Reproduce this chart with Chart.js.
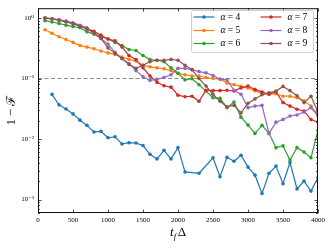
<!DOCTYPE html>
<html>
<head>
<meta charset="utf-8">
<script src="https://cdn.jsdelivr.net/npm/chart.js@4.4.0/dist/chart.umd.min.js"></script>
<style>
  html, body { margin: 0; padding: 0; background: #fff; }
  #wrap { width: 332px; height: 248px; }
</style>
</head>
<body>
<div id="wrap"><canvas id="grafico" width="332" height="248"></canvas></div>
<script>
    // t_f * Delta
    const tf = [100, 200, 300, 400, 500, 600, 700, 800, 900, 1000,
      1100, 1200, 1300, 1400, 1500, 1600, 1700, 1800, 1900, 2000,
      2100, 2200, 2300, 2400, 2500, 2600, 2700, 2800, 2900, 3000,
      3100, 3200, 3300, 3400, 3500, 3600, 3700, 3800, 3900, 4000];

    const alfa4 = [null, 0.0546, 0.0367, 0.0313, 0.026, 0.0205, 0.0168, 0.0131, 0.0134, 0.0105,
      0.0109, 0.0083, 0.0087, 0.0086, 0.0078, 0.0056, 0.0047, 0.0065, 0.0047, 0.0072,
      0.00286, null, 0.00272, null, 0.0049, 0.00238, 0.0050, 0.0043, 0.0054, 0.00344,
      0.00253, 0.00126, 0.00272, 0.00358, 0.00183, 0.0041, 0.0015, 0.00202, 0.00138, 0.00232];

    const alfa5 = [0.64, 0.56, 0.49, 0.44, 0.395, 0.35, 0.33, 0.31, 0.285, 0.265,
      0.25, 0.226, 0.207, 0.195, 0.165, 0.156, 0.15, 0.145, 0.135, 0.122,
      0.115, 0.11, 0.11, 0.104, 0.10, 0.098, 0.084, 0.079, 0.074, 0.070,
      0.063, 0.056, 0.055, 0.056, 0.051, 0.051, 0.048, 0.043, 0.035, 0.025];

    const alfa6 = [0.905, 0.86, 0.81, 0.76, 0.72, 0.69, 0.59, 0.54, 0.49, 0.45,
      0.395, 0.35, 0.30, 0.29, 0.24, 0.205, 0.20, 0.19, 0.15, 0.122,
      0.095, 0.099, 0.079, 0.062, 0.048, 0.047, 0.033, 0.041, 0.023, 0.017,
      0.0124, 0.0168, 0.0124, 0.0072, 0.0077, 0.0045, 0.0072, 0.0061, 0.0049, 0.014];

    const alfa7 = [1.0, 0.97, 0.93, 0.88, 0.82, 0.74, 0.67, 0.60, 0.52, 0.45,
      0.42, 0.33, 0.24, 0.205, 0.15, 0.11, 0.087, 0.076, 0.072, 0.053,
      0.050, 0.051, 0.042, 0.064, 0.063, 0.063, 0.064, 0.062, 0.070, 0.075,
      0.066, 0.060, 0.055, 0.060, 0.040, 0.035, 0.031, 0.029, 0.021, 0.019];

    const alfa8 = [1.0, 0.97, 0.93, 0.88, 0.83, 0.76, 0.69, 0.55, 0.46, 0.37,
      0.27, 0.213, 0.177, 0.135, 0.107, 0.093, 0.097, 0.104, 0.115, 0.147,
      0.147, 0.14, 0.13, 0.124, 0.112, 0.097, 0.095, 0.064, 0.055, 0.033,
      0.035, 0.036, 0.0124, 0.019, 0.021, 0.024, 0.025, 0.028, 0.033, 0.024];

    const alfa9 = [1.0, 0.96, 0.92, 0.86, 0.80, 0.73, 0.66, 0.57, 0.46, 0.32,
      0.26, 0.213, 0.17, 0.147, 0.166, 0.19, 0.20, 0.20, 0.207, 0.20,
      0.166, 0.14, 0.10, 0.075, 0.055, 0.042, 0.034, 0.036, 0.027, 0.039,
      0.046, 0.054, 0.058, 0.062, 0.074, 0.063, 0.052, 0.040, 0.051, 0.028];

    const alfas = [4, 5, 6, 7, 8, 9];
    const series = [alfa4, alfa5, alfa6, alfa7, alfa8, alfa9];
    const cores = ['#1f77b4', '#ff7f0e', '#2ca02c', '#d62728', '#9467bd', '#8c564b'];

    const xTicks = [0, 500, 1000, 1500, 2000, 2500, 3000, 3500, 4000];
    const yTicks = [1e-3, 1e-2, 1e-1, 1];
    const yTickLabels = ['10⁻³', '10⁻²', '10⁻¹', '10⁰'];
    const limiar = 0.1;

    const serif = "'Liberation Serif', 'DejaVu Serif', serif";

    const datasets = series.map((arr, i) => ({
      label: 'α = ' + alfas[i],
      data: tf.map((t, j) => ({ x: t, y: arr[j] })),
      borderColor: cores[i],
      backgroundColor: cores[i],
      borderWidth: 1.2,
      pointRadius: 1.8,
      pointBorderWidth: 0,
      pointHoverRadius: 1.8,
      spanGaps: true,
      tension: 0,
      order: 10 - i
    }));

    datasets.push({
      label: '',
      data: [{ x: 0, y: limiar }, { x: 4000, y: limiar }],
      borderColor: '#8c8c8c',
      borderWidth: 1,
      borderDash: [4, 2.5],
      pointRadius: 0,
      order: 20
    });

    const moldura = {
      id: 'moldura',
      afterDraw(chart) {
        const { ctx, chartArea: a, scales } = chart;
        const sx = scales.x, sy = scales.y;
        ctx.save();

        // ticks para dentro nos quatro lados
        ctx.strokeStyle = '#222';
        ctx.lineWidth = 0.8;
        ctx.beginPath();
        xTicks.forEach(v => {
          const px = Math.round(sx.getPixelForValue(v)) + 0.5;
          ctx.moveTo(px, a.bottom); ctx.lineTo(px, a.bottom - 3.5);
          ctx.moveTo(px, a.top); ctx.lineTo(px, a.top + 3.5);
        });
        for (let n = -4; n <= 0; n++) {
          for (let k = 1; k <= 9; k++) {
            const v = k * Math.pow(10, n);
            if (v < sy.min || v > sy.max) continue;
            const py = Math.round(sy.getPixelForValue(v)) + 0.5;
            const len = k === 1 ? 3.5 : 2;
            ctx.moveTo(a.left, py); ctx.lineTo(a.left + len, py);
            ctx.moveTo(a.right, py); ctx.lineTo(a.right - len, py);
          }
        }
        ctx.stroke();

        // moldura
        ctx.strokeStyle = '#111';
        ctx.lineWidth = 1;
        ctx.strokeRect(a.left + 0.5, a.top + 0.5, a.right - a.left - 1, a.bottom - a.top - 1);

        // legenda em duas colunas
        const lx = 191, ly = 10, lw = 122, lh = 42;
        ctx.beginPath();
        ctx.roundRect(lx + 0.5, ly + 0.5, lw, lh, 2);
        ctx.fillStyle = 'rgba(255,255,255,0.85)';
        ctx.fill();
        ctx.strokeStyle = '#d0d0d0';
        ctx.lineWidth = 1;
        ctx.stroke();
        const colX = [193.5, 260.5];
        const rowY = [17, 30.5, 43.5];
        chart.data.datasets.slice(0, 6).forEach((ds, i) => {
          const cx = colX[Math.floor(i / 3)];
          const cy = rowY[i % 3];
          ctx.strokeStyle = ds.borderColor;
          ctx.lineWidth = 1.2;
          ctx.beginPath();
          ctx.moveTo(cx, cy); ctx.lineTo(cx + 21, cy);
          ctx.stroke();
          ctx.fillStyle = ds.borderColor;
          ctx.beginPath();
          ctx.arc(cx + 10.5, cy, 1.8, 0, Math.PI * 2);
          ctx.fill();
          ctx.fillStyle = '#000';
          ctx.textBaseline = 'middle';
          ctx.textAlign = 'left';
          ctx.font = 'italic 9.5px ' + serif;
          const tx = cx + 27;
          ctx.fillText('α', tx, cy);
          const w = ctx.measureText('α').width;
          ctx.font = '9.5px ' + serif;
          ctx.fillText(' = ' + alfas[i], tx + w, cy);
        });

        // título do eixo x: t_f Δ
        ctx.fillStyle = '#000';
        ctx.textBaseline = 'alphabetic';
        ctx.textAlign = 'left';
        ctx.font = 'italic 13px ' + serif;
        const wt = ctx.measureText('t').width;
        ctx.font = 'italic 9px ' + serif;
        const wf = ctx.measureText('f').width;
        ctx.font = '13px ' + serif;
        const wd = ctx.measureText('Δ').width;
        const total = wt + wf + 1.5 + wd;
        let x0 = (a.left + a.right) / 2 - total / 2;
        const base = 236;
        ctx.font = 'italic 13px ' + serif;
        ctx.fillText('t', x0, base);
        ctx.font = 'italic 9px ' + serif;
        ctx.fillText('f', x0 + wt, base + 2.5);
        ctx.font = '13px ' + serif;
        ctx.fillText('Δ', x0 + wt + wf + 1.5, base);

        // título do eixo y: 1 − ℱ
        ctx.translate(12, (a.top + a.bottom) / 2);
        ctx.rotate(-Math.PI / 2);
        ctx.textAlign = 'center';
        ctx.textBaseline = 'middle';
        ctx.font = '12.5px ' + serif;
        ctx.fillText('1 − ℱ', 0, 0);
        ctx.restore();
      }
    };

    const ctx = document.getElementById('grafico');
    new Chart(ctx, {
      type: 'line',
      data: { datasets },
      options: {
        responsive: false,
        animation: false,
        events: [],
        layout: { padding: { top: 5, right: 14, left: 0, bottom: 0 } },
        plugins: {
          legend: { display: false },
          tooltip: { enabled: false }
        },
        scales: {
          x: {
            type: 'linear',
            min: 0,
            max: 4000,
            grid: { display: false, drawTicks: false },
            border: { display: false },
            afterBuildTicks: s => { s.ticks = xTicks.map(v => ({ value: v })); },
            afterFit: s => { s.height = 35; },
            ticks: {
              color: '#000',
              padding: 3,
              maxRotation: 0,
              font: { family: serif, size: 7 },
              callback: v => String(v)
            }
          },
          y: {
            type: 'logarithmic',
            min: 6.4e-4,
            max: 1.45,
            grid: { display: false, drawTicks: false },
            border: { display: false },
            afterBuildTicks: s => { s.ticks = yTicks.map(v => ({ value: v })); },
            afterFit: s => { s.width = 38; },
            ticks: {
              color: '#000',
              padding: 4,
              font: { family: serif, size: 7 },
              callback: v => yTickLabels[yTicks.indexOf(v)] || ''
            }
          }
        }
      },
      plugins: [moldura]
    });
</script>
</body>
</html>
